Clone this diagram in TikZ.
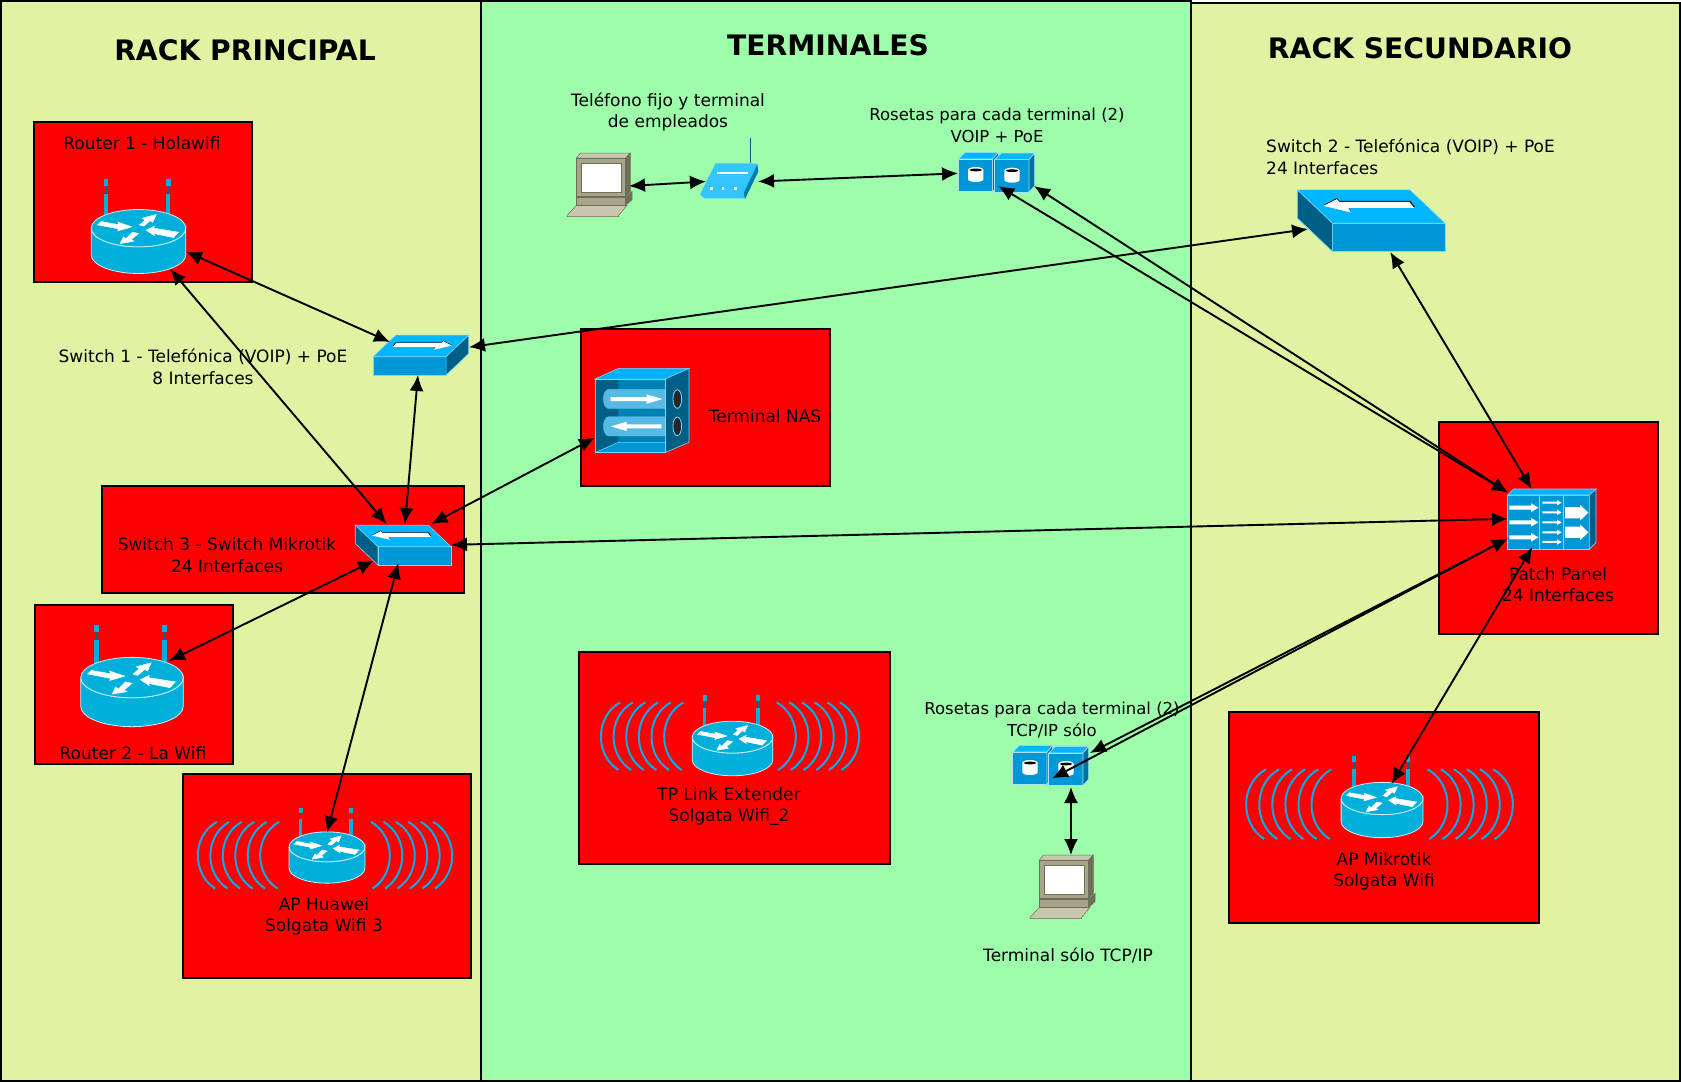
\documentclass[tikz,border=0pt]{standalone}
\usepackage{fontspec}
\setmainfont{DejaVu Sans}
\usetikzlibrary{arrows.meta}

\definecolor{rackgreen}{HTML}{E0F3A3}
\definecolor{termgreen}{HTML}{9DFDAB}
\definecolor{icontop}{HTML}{00B6FF}
\definecolor{iconfront}{HTML}{0097D6}
\definecolor{iconside}{HTML}{005F87}
\definecolor{iconedge}{HTML}{7AD7FF}
\definecolor{routerblue}{HTML}{00B0DA}
\definecolor{wavesblue}{HTML}{00AEEA}
\definecolor{pcbody}{HTML}{A6A58A}
\definecolor{pcdark}{HTML}{6F6E58}
\definecolor{pclight}{HTML}{C9C7B0}

\tikzset{
	lbl/.style={font=\fontsize{17}{21.4}\selectfont,align=center,text=black,inner sep=0},
	lblnarrow/.style={lbl,font=\fontsize{16.5}{21.4}\selectfont},
	heading/.style={font=\fontsize{28.2}{34}\selectfont\bfseries,text=black,inner sep=0},
	portbox/.style={inner sep=0,outer sep=0},
	link/.style={line width=1.9pt,>={Latex[length=16pt,width=14pt]},<->},
	facet/.style={draw=iconedge,line width=.6pt},
	whitearrow/.style={fill=white,draw=white,line width=.5pt},
	routericon/.pic={
		\foreach \x in {-98,90} {
			\fill[routerblue] (\x-6,-144) rectangle (\x+6,-78);
			\draw[routerblue!60!black,line width=.5pt] (\x,-166) -- (\x,-144);
			\fill[routerblue] (\x-7,-187) rectangle (\x+7,-166);
		}
		\draw[fill=routerblue,draw=white!80!routerblue,line width=.8pt] (-142,-40) -- (-142,40) arc (180:0:142 and 56) -- (142,-40) arc (0:180:142 and 56);
		\draw[fill=routerblue,draw=white!80!routerblue,line width=.8pt] (0,-40) circle [x radius=142,y radius=56];
		\path[whitearrow] (-123,-50) -- (-112,-60) -- (-58,-50) -- (-62,-58) -- (-20,-44) -- (-62,-32) -- (-60,-38) -- cycle;
		\path[whitearrow] (3,-50) -- (20,-64) -- (12,-70) -- (53,-81) -- (43,-58) -- (35,-63) -- (16,-46) -- cycle;
		\path[whitearrow] (23,-34) -- (48,-46) -- (45,-40) -- (120,-28) -- (105,-12) -- (45,-24) -- (48,-18) -- cycle;
		\path[whitearrow] (-55,6) -- (-45,-14) -- (-38,-8) -- (-18,-28) -- (0,-24) -- (-22,-6) -- (-14,-1) -- cycle;
	},
	wavesicon/.pic={
		\foreach \s in {1,-1} {
			\foreach \k in {0,...,5} {
				\draw[wavesblue,line width=2pt] ({\s*(-330+38*\k)},-101) .. controls ({\s*(-406+38*\k)},-58) and ({\s*(-406+38*\k)},57) .. ({\s*(-335+38*\k)},102);
			}
		}
	},
	switchicon/.pic={
		\draw[facet,fill=iconfront] (-116,8) rectangle (222,93);
		\draw[facet,fill=icontop] (-221,-92) -- (117,-92) -- (222,8) -- (-116,8) -- cycle;
		\draw[facet,fill=iconside] (-221,-92) -- (-116,8) -- (-116,93) -- (-221,-7) -- cycle;
		\fill[black] (-143,-46) -- (-103,-67) -- (-95,-59) -- (118,-59) -- (132,-40) -- (-68,-40) -- (-60,-26) -- cycle;
		\fill[white] (-143,-44) -- (-103,-64) -- (-95,-56) -- (115,-56) -- (129,-38) -- (-68,-38) -- (-60,-24) -- cycle;
	},
	pcicon/.pic={
		\draw[pcdark,fill=pclight,line width=.5pt] (-98,92) -- (-70,62) -- (82,62) -- (57,92) -- (57,96) -- (-98,96) -- cycle;
		\draw[pcdark,fill=pcbody,line width=.5pt] (-70,38) rectangle (78,62);
		\draw[pcdark,fill=pcdark,line width=.5pt] (78,38) -- (97,20) -- (97,45) -- (78,62) -- cycle;
		\draw[pcdark,fill=pclight,line width=.5pt] (-70,-80) -- (-58,-95) -- (92,-95) -- (78,-80) -- cycle;
		\draw[pcdark,fill=pcdark,line width=.5pt] (78,-80) -- (92,-95) -- (92,20) -- (78,35) -- cycle;
		\draw[pcdark,fill=pcbody,line width=.5pt] (-70,-80) rectangle (78,35);
		\draw[pcdark,fill=white,line width=.5pt] (-56,-65) rectangle (66,22);
	},
	modemicon/.pic={
		\draw[iconside,line width=.9pt] (63,-90) -- (63,-17);
		\fill[iconside!50!iconfront] (84,-13) -- (87,10) -- (47,93) -- (42,75) -- cycle;
		\fill[icontop!80!white] (-41,-15) -- (60,-15) -- (84,-13) -- (42,75) -- (47,90) -- (-75,90) -- (-88,78) -- cycle;
		\draw[white,line width=1.8pt] (-38,15) -- (57,15);
		\foreach \x in {-58,-23,15} { \draw[white,line width=3pt] (\x,60) -- (\x+8,60); }
	},
	roseticon/.pic={
		\draw[draw=white!70!iconfront,line width=.6pt,fill=iconfront] (-52,-49) rectangle (51,49);
		\draw[draw=white!70!iconfront,line width=.6pt,fill=icontop] (-52,-49) -- (-32,-69) -- (68,-69) -- (51,-49) -- cycle;
		\draw[draw=white!70!iconfront,line width=.6pt,fill=iconside!70!iconfront] (51,-49) -- (68,-69) -- (68,29) -- (51,49) -- cycle;
		\fill[white] (-23,-16) -- (-23,12) arc (180:0:23 and 8) -- (23,-16) -- cycle;
		\fill[white] (0,-16) circle [x radius=23,y radius=9];
		\fill[black] (0,-16) circle [x radius=19,y radius=4];
	},
	nasicon/.pic={
		\draw[facet,fill=icontop!85!iconfront] (-141,-95) -- (-71,-127) -- (141,-127) -- (69,-95) -- cycle;
		\draw[facet,fill=iconside] (69,-95) -- (141,-127) -- (141,95) -- (69,126) -- cycle;
		\draw[facet,fill=iconside!40!iconfront] (-141,-95) rectangle (69,126);
		\fill[iconside] (-141,-95) -- (-71,-95) -- (-71,95) -- (-141,126) -- cycle;
		\fill[iconfront] (-141,126) -- (-71,95) -- (69,95) -- (69,126) -- cycle;
		\draw[iconedge,line width=.5pt] (-141,-95) rectangle (69,126);
		\draw[iconedge,line width=.5pt] (-141,126) -- (-71,95) -- (69,95);
		\foreach \y in {-35,47} {
			\draw[iconedge!60!iconfront,fill=iconfront!60!white!85!iconfront,line width=.4pt] (69,\y-29) -- (-100,\y-29) arc (270:90:16 and 29) -- (69,\y+29);
		}
		\foreach \y in {-35,47} {
			\draw[iconedge,fill=black!85,line width=.8pt] (106,\y) circle [x radius=13,y radius=28];
		}
		\fill[white] (-94,-41) -- (14,-41) -- (14,-49) -- (62,-35) -- (14,-21) -- (14,-29) -- (-94,-29) -- cycle;
		\fill[white] (58,41) -- (-46,41) -- (-46,33) -- (-94,47) -- (-46,61) -- (-46,53) -- (58,53) -- cycle;
	},
	patchicon/.pic={
		\draw[facet,fill=iconfront] (-132,-72) rectangle (113,91);
		\draw[facet,fill=icontop] (-132,-72) -- (-115,-90) -- (133,-90) -- (113,-72) -- cycle;
		\draw[facet,fill=iconside] (113,-72) -- (133,-90) -- (133,71) -- (113,91) -- cycle;
		\foreach \x in {-37,35} { \draw[iconedge,line width=.8pt] (\x,-72) -- (\x,91); }
		\foreach \y in {-34,10,55} {
			\fill[white] (-127,\y-6) -- (-62,\y-6) -- (-62,\y-13) -- (-40,\y) -- (-62,\y+13) -- (-62,\y+6) -- (-127,\y+6) -- cycle;
		}
		\foreach \y in {-49,-20,10,40,69} {
			\fill[white] (-28,\y-3) -- (16,\y-3) -- (16,\y-8) -- (30,\y) -- (16,\y+8) -- (16,\y+3) -- (-28,\y+3) -- cycle;
		}
		\foreach \y in {-19,40} {
			\fill[white] (40,\y-17) -- (85,\y-17) -- (85,\y-24) -- (110,\y) -- (85,\y+24) -- (85,\y+17) -- (40,\y+17) -- cycle;
		}
	}
}

\begin{document}
\begin{tikzpicture}[x=1pt,y=-1pt]
	\useasboundingbox (0,0) rectangle (1681,1082);

	% the three zones
	\draw[line width=1.6pt,fill=rackgreen] (1,1) rectangle (481,1081);
	\draw[line width=1.6pt,fill=rackgreen] (1191,3) rectangle (1680,1081);
	\draw[line width=1.6pt,fill=termgreen] (481,1) rectangle (1191,1081);

	\foreach \xa / \ya / \xb / \yb in {34/122/252/282,581/329/830/486,102/486/464/593,35/605/233/764,183/774/471/978,579/652/890/864,1439/422/1658/634,1229/712/1539/923} {
		\draw[line width=1.3pt,fill=red] (\xa,\ya) rectangle (\xb,\yb);
	}

	\node[heading] (rackppal) at (245,50.5) {RACK PRINCIPAL};
	\node[heading] (terminales) at (828,45.5) {TERMINALES};
	\node[heading] (racksec) at (1420,48.5) {RACK SECUNDARIO};

	\node[lbl] (lblrouter1) at (142,143) {Router 1 - Holawifi};
	\node[lbl] (lblswitch1) at (203,367) {Switch 1 - Telefónica (VOIP) + PoE\\8 Interfaces};
	\node[lbl] (lblphone) at (668,112) {Teléfono fijo y terminal\\de empleados};
	\node[lblnarrow] (lblrosetop) at (997,125.5) {Rosetas para cada terminal (2)\\VOIP + PoE};
	\node[lbl,align=left,anchor=west] (lblswitch2) at (1266,157) {Switch 2 - Telefónica (VOIP) + PoE\\24 Interfaces};
	\node[lbl] (lblnas) at (765,416) {Terminal NAS};
	\node[lbl] (lblswitch3) at (227,555) {Switch 3 - Switch Mikrotik\\24 Interfaces};
	\node[lbl] (lblrouter2) at (133,753) {Router 2 - La Wifi};
	\node[lbl] (lblhuawei) at (324,916) {AP Huawei\\Solgata Wifi 3};
	\node[lbl] (lbltplink) at (729,806.5) {TP Link Extender\\Solgata Wifi\_2};
	\node[lblnarrow] (lblrosebot) at (1052,720) {Rosetas para cada terminal (2)\\TCP/IP sólo};
	\node[lbl] (lblpc2) at (1068,955) {Terminal sólo TCP/IP};
	\node[lbl] (lblpatch) at (1558,584.5) {Patch Panel\\24 Interfaces};
	\node[lbl] (lblmikrotik) at (1384,871) {AP Mikrotik\\Solgata Wifi};

	\pic[scale=.333] at (138.5,241.5) {routericon};
	\pic[scale=.361] at (132,692) {routericon};
	\pic[scale=.267] at (327,857.5) {routericon};
	\pic[scale=.284] at (732.5,748.5) {routericon};
	\pic[scale=.288] at (1382,810) {routericon};
	\pic[scale=.328] at (325,855) {wavesicon};
	\pic[scale=.333] at (730,736) {wavesicon};
	\pic[scale=.344] at (1379.5,804) {wavesicon};
	\pic[xscale=-.216,yscale=.216] at (421,355) {switchicon};
	\pic[scale=.333] at (1371,220.5) {switchicon};
	\pic[scale=.216] at (403,545) {switchicon};
	\pic[scale=.333] at (599.7,184.7) {pcicon};
	\pic[scale=.333] at (1062.7,886.7) {pcicon};
	\pic[scale=.333] at (729.3,168.3) {modemicon};
	\pic[scale=.333] at (975.7,175.3) {roseticon};
	\pic[scale=.333] at (1012,176) {roseticon};
	\pic[scale=.333] at (1030,768.3) {roseticon};
	\pic[scale=.333] at (1066,769.3) {roseticon};
	\pic[scale=.333] at (642,410.7) {nasicon};
	\pic[scale=.333] at (1551.7,519) {patchicon};

	\node[portbox,minimum width=95pt,minimum height=55pt] (router1) at (138.5,241.5) {};
	\node[portbox,minimum width=75pt,minimum height=62pt] (router2) at (131.5,692) {};
	\node[portbox,minimum width=76pt,minimum height=50pt] (aphuawei) at (327,857.5) {};
	\node[portbox,minimum width=82pt,minimum height=52pt] (apmikrotik) at (1382,810) {};
	\node[portbox,minimum width=79pt,minimum height=33pt] (switch1) at (429.5,358.5) {};
	\node[portbox,minimum width=137pt,minimum height=34pt] (switch2) at (1376.5,235) {};
	\node[portbox,minimum width=77pt,minimum height=39pt] (switch3) at (412.5,543.5) {};
	\node[portbox,minimum width=62pt,minimum height=60pt] (terminal1) at (598,186) {};
	\node[portbox,minimum width=48pt,minimum height=62pt] (terminal2) at (1071,886) {};
	\node[portbox,minimum width=52pt,minimum height=37pt] (modem) at (732,181.5) {};
	\node[portbox,minimum width=76pt,minimum height=32pt] (rosetop) at (996,170) {};
	\node[portbox,minimum width=38pt,minimum height=34pt] (rosebot) at (1071,770) {};
	\node[portbox,minimum width=94pt,minimum height=85pt] (nas) at (642,410.5) {};
	\node[portbox,minimum width=88pt,minimum height=58pt] (patch) at (1552,518) {};

	\draw[link] (router1.-12.5) -- (switch1.north west);
	\draw[link] (router1.-41.1) -- (switch3.143.6);
	\draw[link] (switch1.-125) -- (switch3.111);
	\draw[link] (switch1.16.2) -- (switch2.175.8);
	\draw[link] (switch2.-51.5) -- (patch.125.9);
	\draw[link] (nas.-150.6) -- (switch3.46.5);
	\draw[link] (switch3.-2) -- (patch.181);
	\draw[link] (router2.north east) -- (switch3.-156.8);
	\draw[link] (aphuawei.north) -- (switch3.-126.6);
	\draw[link] (terminal1.east) -- (modem.west);
	\draw[link] (modem.east) -- (rosetop.-175.5);
	\draw[link] (rosetop.-82.9) -- (patch.150.4);
	\draw[link] (rosetop.south east) -- (patch.150.4);
	\draw[link] (rosebot.-156.6) -- (patch.-155.6);
	\draw[link] (rosebot.north east) -- (patch.-155.6);
	\draw[link] (rosebot.south) -- (terminal2.north);
	\draw[link] (apmikrotik.70.9) -- (patch.-124.6);
\end{tikzpicture}
\end{document}
